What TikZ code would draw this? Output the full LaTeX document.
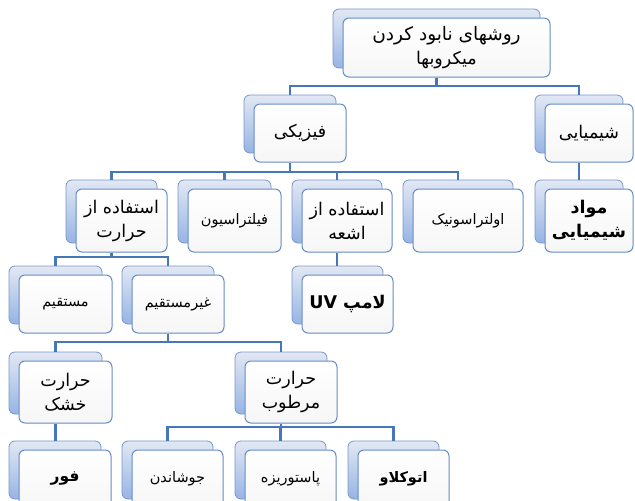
\documentclass[tikz,border=0pt]{standalone}
\usepackage{fontspec}
\newfontfamily\arabicfont[Script=Arabic]{DejaVu Sans}
\TeXXeTstate=1
\usepackage{tikz}

\definecolor{linkblue}{RGB}{70,120,185}
\definecolor{backedge}{RGB}{120,150,200}
\definecolor{backtop}{RGB}{226,232,243}
\definecolor{backbot}{RGB}{150,180,228}
\definecolor{frontedge}{RGB}{100,140,200}

\newcommand{\fa}[1]{\beginR #1\endR}
\newcommand{\smallfa}{\fontsize{14.5}{20}\selectfont}
% name, x, y, width, height, text
\newcommand{\stackbox}[6]{%
  \node[backbox, minimum width=#4pt, minimum height=#5pt] (#1-back) at (#2-10,#3-9) {};
  \node[frontbox, minimum width=#4pt, minimum height=#5pt] (#1) at (#2,#3) {#6};
}

\begin{document}
\begin{tikzpicture}[
  x=1pt, y=-1pt,
  backbox/.style={draw=backedge, line width=0.8pt, rounded corners=6pt, top color=backtop, bottom color=backbot, inner sep=0pt},
  frontbox/.style={draw=frontedge, line width=1pt, rounded corners=6pt, top color=white, bottom color=gray!7, inner sep=2pt, align=center, font=\arabicfont\fontsize{17.5}{24}\selectfont},
  link/.style={draw=linkblue, line width=2.8pt},
]
\useasboundingbox (0,0) rectangle (635,501);
\coordinate (bar1) at (0,86);
\coordinate (bar2) at (0,172);
\coordinate (bar3) at (0,257);
\coordinate (bar4) at (0,342);
\coordinate (bar5) at (0,427);

% level 1 and 2
\stackbox{root}{446.5}{47.5}{207}{59}{\fontsize{18.5}{25}\selectfont\fa{روشهای نابود کردن}\\\fa{میکروبها}}
\stackbox{phys}{300}{133}{92}{58}{\fa{فیزیکی}}
\stackbox{chem}{589}{133}{88}{58}{\fa{شیمیایی}}

% level 3
\stackbox{heat}{121.5}{220.5}{91}{63}{\fa{استفاده از}\\\fa{حرارت}}
\stackbox{filt}{234.5}{220.5}{93}{63}{\smallfa\fa{فیلتراسیون}}
\stackbox{rad}{347}{220.5}{90}{63}{\fa{استفاده از}\\\fa{اشعه}}
\stackbox{ultra}{468}{220.5}{110}{63}{\smallfa\fa{اولتراسونیک}}
\stackbox{chemmat}{589}{220.5}{88}{63}{\bfseries\fa{مواد}\\\bfseries\fa{شیمیایی}}

% level 4
\stackbox{direct}{65.5}{304}{93}{58}{\smallfa\fa{مستقیم}}
\stackbox{indirect}{178}{304}{92}{58}{\smallfa\fa{غیرمستقیم}}
\stackbox{uv}{347.5}{304}{91}{58}{\bfseries\fa{لامپ \beginL UV\endL}}

% level 5
\stackbox{dry}{65.5}{392}{93}{62}{\fa{حرارت}\\\fa{خشک}}
\stackbox{moist}{291}{392}{92}{62}{\fa{حرارت}\\\fa{مرطوب}}

% level 6
\stackbox{oven}{65}{479}{92}{58}{\bfseries\fontsize{15.5}{20}\selectfont\fa{فور}}
\stackbox{boil}{177.5}{479}{91}{58}{\smallfa\fa{جوشاندن}}
\stackbox{past}{290.5}{479}{91}{58}{\smallfa\fa{پاستوریزه}}
\stackbox{auto}{403.5}{479}{91}{58}{\bfseries\smallfa\fa{اتوکلاو}}

% connectors
\draw[link] (root-back.center |- root.south) -- (root-back.center |- bar1);
\draw[link] (phys-back.north) |- (chem-back.north |- bar1) -- (chem-back.north);

\draw[link] (phys-back.center |- phys.south) -- (phys-back.center |- bar2);
\draw[link] (heat-back.north) |- (ultra-back.north |- bar2) -- (ultra-back.north);
\foreach \c in {filt,rad} {
  \draw[link] (\c-back.north) -- (\c-back.north |- bar2);
}
\draw[link] (chem-back.center |- chem.south) -- (chem-back.center |- chemmat-back.north);

\draw[link] (heat-back.center |- heat.south) -- (heat-back.center |- bar3);
\draw[link] (direct-back.north) |- (indirect-back.north |- bar3) -- (indirect-back.north);
\draw[link] (rad-back.center |- rad.south) -- (rad-back.center |- uv-back.north);

\draw[link] (indirect-back.center |- indirect.south) -- (indirect-back.center |- bar4);
\draw[link] (dry-back.north) |- (moist-back.north |- bar4) -- (moist-back.north);

\draw[link] (dry-back.center |- dry.south) -- (dry-back.center |- oven-back.north);
\draw[link] (moist-back.center |- moist.south) -- (moist-back.center |- bar5);
\draw[link] (boil-back.north) |- (auto-back.north |- bar5) -- (auto-back.north);
\draw[link] (past-back.north) -- (past-back.north |- bar5);
\end{tikzpicture}
\end{document}
